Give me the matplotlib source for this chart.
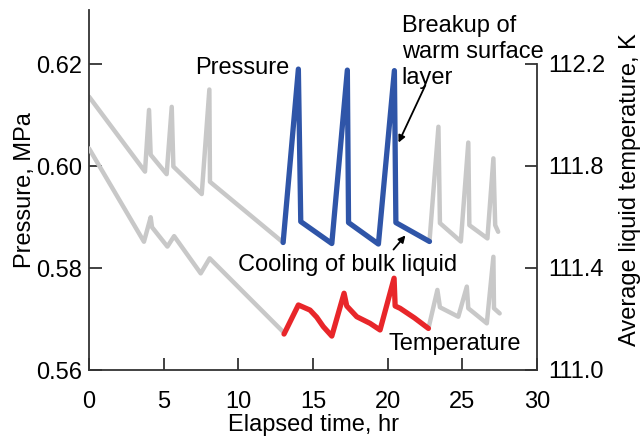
import matplotlib
matplotlib.use("Agg")
import matplotlib.pyplot as plt

plt.rcParams['font.family'] = ['Liberation Sans', 'DejaVu Sans']

# Pressure (MPa) - grey history before highlighted period
p_pre_t = [0.0, 3.75, 4.02, 4.13, 5.2, 5.54, 5.65, 7.55, 8.06, 8.1, 13.0]
p_pre_v = [0.6136, 0.5989, 0.611, 0.6022, 0.5984, 0.6116, 0.5999, 0.5945, 0.615, 0.5969, 0.585]
# Pressure highlighted (blue)
p_hl_t = [13.0, 14.02, 14.18, 16.26, 17.3, 17.38, 19.38, 20.45, 20.55, 22.8]
p_hl_v = [0.585, 0.619, 0.5891, 0.5848, 0.6188, 0.5889, 0.5847, 0.6187, 0.5889, 0.5852]
# Pressure grey after
p_post_t = [22.8, 23.4, 23.5, 24.9, 25.4, 25.47, 26.68, 27.08, 27.2, 27.4]
p_post_v = [0.5852, 0.6077, 0.5888, 0.5852, 0.6046, 0.5884, 0.5858, 0.6015, 0.5884, 0.5871]

# Temperature (K) - grey before
t_pre_t = [0.0, 3.68, 4.13, 4.22, 5.25, 5.7, 7.48, 8.08, 13.06]
t_pre_v = [111.869, 111.503, 111.599, 111.56, 111.484, 111.525, 111.379, 111.438, 111.146]
# Temperature highlighted (red)
t_hl_t = [13.06, 14.02, 14.8, 15.25, 15.69, 16.26, 17.08, 17.26, 17.93, 18.82, 19.49,
          20.43, 20.5, 20.83, 21.8, 22.73]
t_hl_v = [111.141, 111.255, 111.235, 111.207, 111.17, 111.133, 111.301, 111.251, 111.209,
          111.183, 111.157, 111.36, 111.251, 111.242, 111.204, 111.163]
# Temperature grey after
t_post_t = [22.73, 23.33, 23.5, 24.73, 25.3, 25.4, 26.64, 27.08, 27.12, 27.5]
t_post_v = [111.163, 111.314, 111.246, 111.209, 111.327, 111.242, 111.183, 111.444, 111.242, 111.222]

x_ticks = [0, 5, 10, 15, 20, 25, 30]
p_ticks = [0.56, 0.58, 0.60, 0.62]
t_ticks = [111.0, 111.4, 111.8, 112.2]

GREY = '#c8c8c8'
BLUE = '#2f55a8'
RED = '#e8262a'
SPINE = '#333333'
FS = 17

fig = plt.figure(figsize=(6.41, 4.36), dpi=100)
ax = fig.add_axes([89/641, 66/436, 448/641, 360/436])
ax2 = ax.twinx()

ax.plot(p_pre_t, p_pre_v, color=GREY, lw=3.2, solid_joinstyle='round', solid_capstyle='round')
ax.plot(p_post_t, p_post_v, color=GREY, lw=3.2, solid_joinstyle='round', solid_capstyle='round')
ax.plot(p_hl_t, p_hl_v, color=BLUE, lw=3.8, solid_joinstyle='round', solid_capstyle='round', zorder=3)

ax2.plot(t_pre_t, t_pre_v, color=GREY, lw=3.2, solid_joinstyle='round', solid_capstyle='round')
ax2.plot(t_post_t, t_post_v, color=GREY, lw=3.2, solid_joinstyle='round', solid_capstyle='round')
ax2.plot(t_hl_t, t_hl_v, color=RED, lw=3.8, solid_joinstyle='round', solid_capstyle='round', zorder=3)

ax.set_xlim(0, 30)
ax.set_ylim(0.56, 0.56 + 360 / 5100)
ax2.set_ylim(111.0, 111.0 + 360 * 1.2 / 306)

ax.set_xticks(x_ticks)
ax.set_xticklabels([str(v) for v in x_ticks])
ax.set_yticks(p_ticks)
ax.set_yticklabels([f"{v:.2f}" for v in p_ticks])
ax2.set_yticks(t_ticks)
ax2.set_yticklabels([f"{v:.1f}" for v in t_ticks])

for a in (ax, ax2):
    a.spines['top'].set_visible(False)
    for s in a.spines.values():
        s.set_color(SPINE)
        s.set_linewidth(1.3)
ax.spines['right'].set_visible(False)
ax2.spines['left'].set_visible(False)
ax2.spines['bottom'].set_visible(False)
ax2.spines['right'].set_bounds(111.0, 112.2)

ax.tick_params(axis='x', direction='in', length=9, width=1.3, color=SPINE,
               labelsize=FS, pad=15)
ax.tick_params(axis='y', direction='in', length=9, width=1.3, color=SPINE,
               labelsize=FS, pad=5)
ax2.tick_params(axis='y', direction='in', length=9, width=1.3, color=SPINE,
                labelsize=FS, pad=8)

ax.set_xlabel('Elapsed time, hr', fontsize=FS, labelpad=1)
ax.set_ylabel('Pressure, MPa', fontsize=FS, labelpad=0)
ax2.set_ylabel('Average liquid temperature, K', fontsize=FS, labelpad=10)

ax.text(13.4, 0.6192, 'Pressure', fontsize=FS, ha='right', va='center')
ax.text(20.94, 0.6224, 'Breakup of\nwarm surface\nlayer', fontsize=FS, ha='left',
        va='center', linespacing=1.22)
ax.annotate('', xy=(20.65, 0.6041), xytext=(22.6, 0.6163),
            arrowprops=dict(arrowstyle='-|>', color='black', lw=1.3, mutation_scale=10))
ax.text(9.99, 0.5806, 'Cooling of bulk liquid', fontsize=FS, ha='left', va='center')
ax.annotate('', xy=(21.31, 0.5868), xytext=(20.27, 0.5832),
            arrowprops=dict(arrowstyle='-|>', color='black', lw=1.3, mutation_scale=10))
ax.text(20.05, 0.5651, 'Temperature', fontsize=FS, ha='left', va='center')

fig.savefig('out.png', dpi=100)
